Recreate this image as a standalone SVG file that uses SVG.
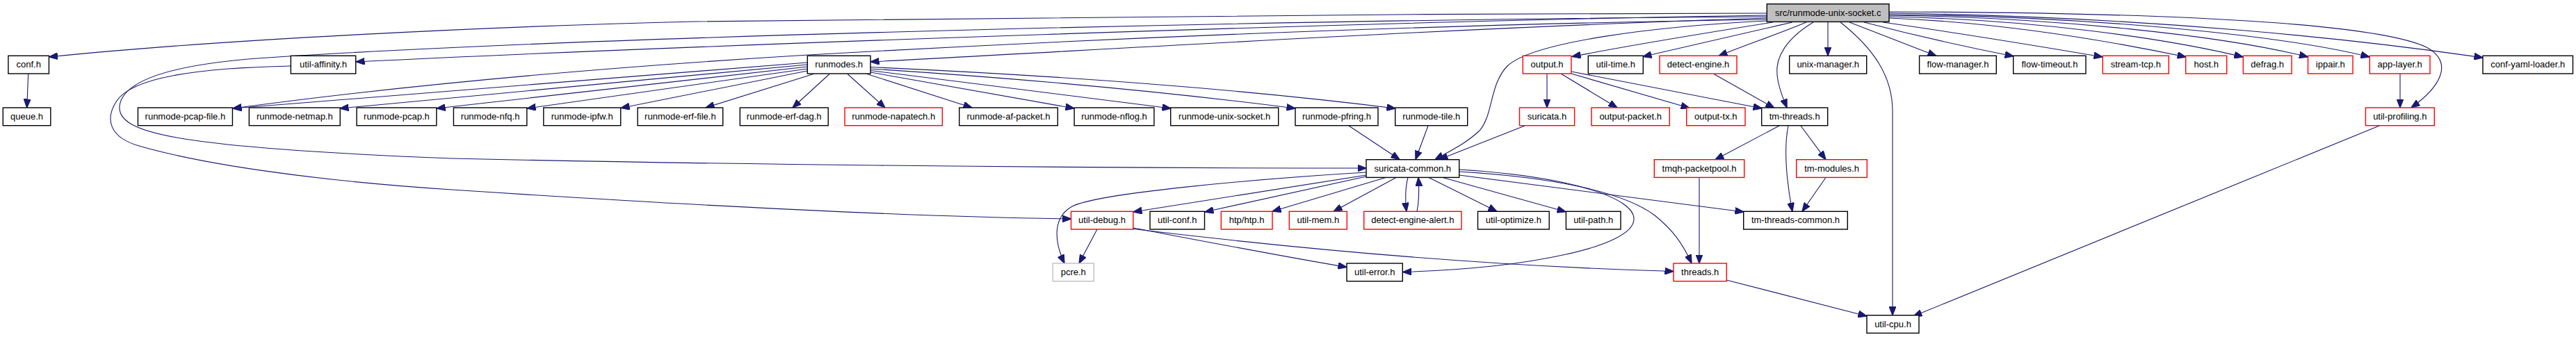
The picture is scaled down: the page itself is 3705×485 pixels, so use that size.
<svg xmlns="http://www.w3.org/2000/svg" width="3705" height="485" viewBox="0 0 3705 485">
<style>
.node rect{fill:#fff;stroke:#000;stroke-width:1.4}
.node.red rect{stroke:#ff0000}
.node.gray rect{stroke:#bfbfbf}
.node.root rect{fill:#bfbfbf;stroke:#000}
.node text{font-family:"Liberation Sans",Arial,sans-serif;font-size:13px;fill:#000;text-anchor:middle}
.edges path{fill:none;stroke:#191970;stroke-width:1.1;marker-end:url(#ah)}
</style>
<defs>
<marker id="ah" markerWidth="14" markerHeight="10" refX="12.5" refY="5" orient="auto" markerUnits="userSpaceOnUse">
<path d="M0,0 L13,5 L0,10 z" fill="#191970" stroke="#191970" stroke-width="1"/>
</marker>
</defs>
<rect x="0" y="0" width="3705" height="485" fill="#fff"/>
<g class="edges" id="edges">
<path d="M2541,19 C2000,20 1300,24 1000,31 C700,38 300,58 70.5,82"/>
<path d="M2541,22 C2000,30 1000,65 512,89"/>
<path d="M2541,24 C1900,28 900,50 400,82 C260,90 178,112 172,152 C168,190 240,212 650,228 C1000,236 1500,242 1965,242"/>
<path d="M2541,26 C2100,40 1650,68 1252,89"/>
<path d="M2541,28 C2000,36 1500,60 1163,79 C900,95 600,120 335,156"/>
<path d="M2541,30 C2380,38 2205,60 2168,95 C2142,122 2148,165 2128,188 C2110,205 2090,215 2064,229.5"/>
<path d="M2550,32 C2450,48 2330,68 2261,81.5"/>
<path d="M2578,32 C2500,50 2420,68 2363,81.5"/>
<path d="M2598,32 C2560,48 2510,65 2472,80.5"/>
<path d="M2608,32 C2570,55 2553,82 2556,108 C2558,128 2565,142 2570,155"/>
<path d="M2629,32 L2629,80.3"/>
<path d="M2647,32 C2695,70 2722,110 2722,160 L2722,453.7"/>
<path d="M2660,32 L2785,80.5"/>
<path d="M2681,32 C2750,50 2830,68 2896,81"/>
<path d="M2708,32 C2820,48 2930,66 3024,82"/>
<path d="M2717,26 C2870,32 3020,56 3144,82"/>
<path d="M2717,24 C2920,28 3110,54 3226,82"/>
<path d="M2717,22 C2960,25 3200,52 3319.5,82"/>
<path d="M2717,21 C3000,23 3280,50 3408,82"/>
<path d="M2717,19 C3100,24 3400,58 3571,83"/>
<path d="M2717,17 C3150,18 3420,35 3490,68 C3530,90 3510,125 3468,155"/>
<path d="M40.7,106 L38.7,155"/>
<path d="M1161,90 L335,156"/>
<path d="M1161,93 L489,156"/>
<path d="M1161,96 L628,156"/>
<path d="M1161,99 L758,156"/>
<path d="M1161,102 L893,155.5"/>
<path d="M1170,106.5 L1015,155"/>
<path d="M1193,106.5 L1140,155"/>
<path d="M1219,106.5 L1273,155"/>
<path d="M1247,106.5 L1398,155"/>
<path d="M1252,104 L1545,156"/>
<path d="M1252,101.5 L1684,156"/>
<path d="M1252,99 C1500,115 1700,135 1863,156"/>
<path d="M1252,96.5 C1550,110 1800,130 2007,156"/>
<path d="M2225,106 L2225,155"/>
<path d="M2245,106 L2326,155"/>
<path d="M2260,106 L2430,155.5"/>
<path d="M2260,103 L2534,156"/>
<path d="M2193,181 L2070,229.5"/>
<path d="M2465,106.5 L2552,155.5"/>
<path d="M1940,181 L2013,229.5"/>
<path d="M2054,181 L2036,229.5"/>
<path d="M2559,181 L2467,229.7"/>
<path d="M2572,181 C2565,215 2570,265 2578,304.3"/>
<path d="M2590,181 L2626,229.7"/>
<path d="M2626,255.5 L2592,304.3"/>
<path d="M2444,255.5 L2444,379"/>
<path d="M1965,248 C1800,258 1580,278 1542,297 C1515,312 1515,345 1531,379"/>
<path d="M1965,252 L1630,305"/>
<path d="M1965,254 L1733,305"/>
<path d="M1993,255.5 L1830,304.3"/>
<path d="M2008,255.5 L1918,304.3"/>
<path d="M2025,255.5 C2021,270 2021,290 2023,304.3"/>
<path d="M2038,304.3 C2041,290 2041,270 2040,255.5"/>
<path d="M2055,255.5 L2153,304.3"/>
<path d="M2075,255.5 L2252,304.8"/>
<path d="M2098.7,252 L2508,305"/>
<path d="M2098.7,247 C2250,256 2340,280 2380,310 C2405,330 2420,350 2433,379"/>
<path d="M2098.7,244 C2260,254 2352,285 2350,316 C2348,355 2200,386 2017.5,391.5"/>
<path d="M1578,330 L1552,379"/>
<path d="M1630,328 C1720,345 1850,370 1937,384.5"/>
<path d="M1630,329.5 C1800,350 2100,382 2407,390.5"/>
<path d="M2483,403 L2685,455"/>
<path d="M3422,181 L2752,455"/>
<path d="M3452,106 L3452,155"/>
<path d="M418,95 C280,98 190,112 168,145 C150,172 158,198 200,210 C290,236 450,260 650,273 C1000,296 1300,312 1540.5,315"/>
</g>
<g id="n_root" class="node root"><rect x="2541.3" y="5.7" width="175.7" height="25.7"/><text x="2629.2" y="22.7">src/runmode-unix-socket.c</text></g>
<g id="n_conf" class="node"><rect x="11.9" y="80.3" width="58.5" height="25.7"/><text x="41.2" y="97.3">conf.h</text></g>
<g id="n_util_affinity" class="node"><rect x="418.3" y="80.3" width="93.4" height="25.7"/><text x="465" y="97.3">util-affinity.h</text></g>
<g id="n_runmodes" class="node"><rect x="1161.3" y="80.3" width="90.7" height="25.7"/><text x="1206.7" y="97.3">runmodes.h</text></g>
<g id="n_output" class="node red"><rect x="2190.3" y="80.3" width="69.6" height="25.7"/><text x="2225.1" y="97.3">output.h</text></g>
<g id="n_util_time" class="node"><rect x="2284.3" y="80.3" width="79" height="25.7"/><text x="2323.8" y="97.3">util-time.h</text></g>
<g id="n_detect_engine" class="node red"><rect x="2387" y="80.3" width="111" height="25.7"/><text x="2442.5" y="97.3">detect-engine.h</text></g>
<g id="n_unix_manager" class="node"><rect x="2573.7" y="80.3" width="111" height="25.7"/><text x="2629.2" y="97.3">unix-manager.h</text></g>
<g id="n_flow_manager" class="node"><rect x="2760.6" y="80.3" width="110.7" height="25.7"/><text x="2816" y="97.3">flow-manager.h</text></g>
<g id="n_flow_timeout" class="node"><rect x="2895.7" y="80.3" width="104.3" height="25.7"/><text x="2947.9" y="97.3">flow-timeout.h</text></g>
<g id="n_stream_tcp" class="node red"><rect x="3024.3" y="80.3" width="95" height="25.7"/><text x="3071.8" y="97.3">stream-tcp.h</text></g>
<g id="n_host" class="node red"><rect x="3143.7" y="80.3" width="59" height="25.7"/><text x="3173.2" y="97.3">host.h</text></g>
<g id="n_defrag" class="node red"><rect x="3226.3" y="80.3" width="69.7" height="25.7"/><text x="3261.2" y="97.3">defrag.h</text></g>
<g id="n_ippair" class="node red"><rect x="3319.5" y="80.3" width="64.5" height="25.7"/><text x="3351.8" y="97.3">ippair.h</text></g>
<g id="n_app_layer" class="node red"><rect x="3408.3" y="80.3" width="86.7" height="25.7"/><text x="3451.7" y="97.3">app-layer.h</text></g>
<g id="n_conf_yaml_loader" class="node"><rect x="3571" y="80.3" width="129.5" height="25.7"/><text x="3635.8" y="97.3">conf-yaml-loader.h</text></g>
<g id="n_queue" class="node"><rect x="4.3" y="155" width="68.5" height="25.7"/><text x="38.6" y="172">queue.h</text></g>
<g id="n_runmode_pcap_file" class="node"><rect x="198.4" y="155" width="136" height="25.7"/><text x="266.4" y="172">runmode-pcap-file.h</text></g>
<g id="n_runmode_netmap" class="node"><rect x="358.3" y="155" width="130.9" height="25.7"/><text x="423.8" y="172">runmode-netmap.h</text></g>
<g id="n_runmode_pcap" class="node"><rect x="513" y="155" width="114.8" height="25.7"/><text x="570.4" y="172">runmode-pcap.h</text></g>
<g id="n_runmode_nfq" class="node"><rect x="652.4" y="155" width="105.4" height="25.7"/><text x="705.1" y="172">runmode-nfq.h</text></g>
<g id="n_runmode_ipfw" class="node"><rect x="781.8" y="155" width="110.9" height="25.7"/><text x="837.2" y="172">runmode-ipfw.h</text></g>
<g id="n_runmode_erf_file" class="node"><rect x="917.1" y="155" width="122.6" height="25.7"/><text x="978.4" y="172">runmode-erf-file.h</text></g>
<g id="n_runmode_erf_dag" class="node"><rect x="1064.3" y="155" width="126.9" height="25.7"/><text x="1127.7" y="172">runmode-erf-dag.h</text></g>
<g id="n_runmode_napatech" class="node red"><rect x="1215" y="155" width="140.3" height="25.7"/><text x="1285.2" y="172">runmode-napatech.h</text></g>
<g id="n_runmode_af_packet" class="node"><rect x="1379.7" y="155" width="141.6" height="25.7"/><text x="1450.5" y="172">runmode-af-packet.h</text></g>
<g id="n_runmode_nflog" class="node"><rect x="1545.1" y="155" width="114.8" height="25.7"/><text x="1602.5" y="172">runmode-nflog.h</text></g>
<g id="n_runmode_unix_socket" class="node"><rect x="1683.7" y="155" width="155" height="25.7"/><text x="1761.2" y="172">runmode-unix-socket.h</text></g>
<g id="n_runmode_pfring" class="node"><rect x="1863" y="155" width="119" height="25.7"/><text x="1922.5" y="172">runmode-pfring.h</text></g>
<g id="n_runmode_tile" class="node"><rect x="2006.7" y="155" width="104" height="25.7"/><text x="2058.7" y="172">runmode-tile.h</text></g>
<g id="n_suricata" class="node red"><rect x="2185.5" y="155" width="79.1" height="25.7"/><text x="2225" y="172">suricata.h</text></g>
<g id="n_output_packet" class="node red"><rect x="2289" y="155" width="112.3" height="25.7"/><text x="2345.2" y="172">output-packet.h</text></g>
<g id="n_output_tx" class="node red"><rect x="2425.7" y="155" width="84.3" height="25.7"/><text x="2467.8" y="172">output-tx.h</text></g>
<g id="n_tm_threads" class="node"><rect x="2533.7" y="155" width="95" height="25.7"/><text x="2581.2" y="172">tm-threads.h</text></g>
<g id="n_util_profiling" class="node red"><rect x="3402.4" y="155" width="98.9" height="25.7"/><text x="3451.8" y="172">util-profiling.h</text></g>
<g id="n_suricata_common" class="node"><rect x="1965" y="229.7" width="133.7" height="25.7"/><text x="2031.8" y="246.7">suricata-common.h</text></g>
<g id="n_tmqh_packetpool" class="node red"><rect x="2379.3" y="229.7" width="129.4" height="25.7"/><text x="2444" y="246.7">tmqh-packetpool.h</text></g>
<g id="n_tm_modules" class="node red"><rect x="2583.7" y="229.7" width="101.6" height="25.7"/><text x="2634.5" y="246.7">tm-modules.h</text></g>
<g id="n_util_debug" class="node red"><rect x="1540.5" y="304.3" width="89.3" height="25.7"/><text x="1585.1" y="321.3">util-debug.h</text></g>
<g id="n_util_conf" class="node"><rect x="1654" y="304.3" width="78.5" height="25.7"/><text x="1693.2" y="321.3">util-conf.h</text></g>
<g id="n_htp" class="node red"><rect x="1756.3" y="304.3" width="73.7" height="25.7"/><text x="1793.1" y="321.3">htp/htp.h</text></g>
<g id="n_util_mem" class="node red"><rect x="1854.3" y="304.3" width="83" height="25.7"/><text x="1895.8" y="321.3">util-mem.h</text></g>
<g id="n_detect_engine_alert" class="node red"><rect x="1961.7" y="304.3" width="140.3" height="25.7"/><text x="2031.8" y="321.3">detect-engine-alert.h</text></g>
<g id="n_util_optimize" class="node"><rect x="2125.5" y="304.3" width="102.7" height="25.7"/><text x="2176.8" y="321.3">util-optimize.h</text></g>
<g id="n_util_path" class="node"><rect x="2252.4" y="304.3" width="78.6" height="25.7"/><text x="2291.7" y="321.3">util-path.h</text></g>
<g id="n_tm_threads_common" class="node"><rect x="2507.7" y="304.3" width="149.6" height="25.7"/><text x="2582.5" y="321.3">tm-threads-common.h</text></g>
<g id="n_pcre" class="node gray"><rect x="1514.3" y="379" width="59" height="25.7"/><text x="1543.8" y="396">pcre.h</text></g>
<g id="n_util_error" class="node"><rect x="1937" y="379" width="80.3" height="25.7"/><text x="1977.2" y="396">util-error.h</text></g>
<g id="n_threads" class="node red"><rect x="2407" y="379" width="76.3" height="25.7"/><text x="2445.2" y="396">threads.h</text></g>
<g id="n_util_cpu" class="node"><rect x="2685" y="453.7" width="75" height="25.7"/><text x="2722.5" y="470.7">util-cpu.h</text></g>
</svg>
